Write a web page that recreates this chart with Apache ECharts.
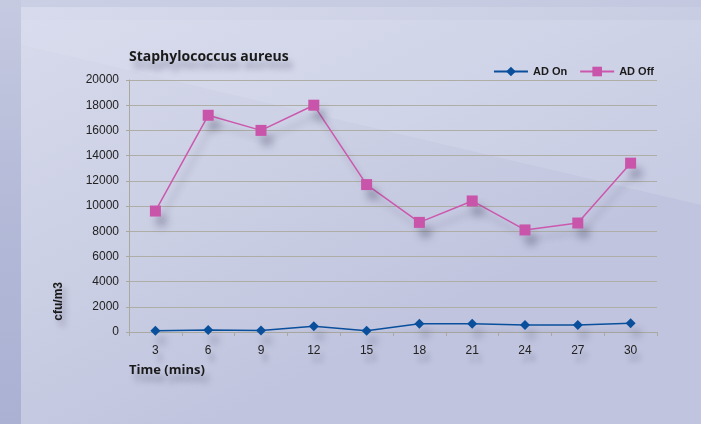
<!DOCTYPE html>
<html><head><meta charset="utf-8">
<script src="https://cdn.jsdelivr.net/npm/echarts@6/dist/echarts.min.js"></script>
<style>html,body{margin:0;padding:0;background:#d3d6e9}#c{width:701px;height:424px}</style>
</head><body><div id="c"></div>
<script>
var categories = ['3','6','9','12','15','18','21','24','27','30'];
var adOn  = [100, 150, 120, 450, 100, 650, 650, 550, 550, 700];
var adOff = [9600, 17200, 16000, 18000, 11700, 8700, 10400, 8100, 8650, 13400];
var yTicks = [0, 2000, 4000, 6000, 8000, 10000, 12000, 14000, 16000, 18000, 20000];

var chart = echarts.init(document.getElementById('c'));
var shadow = {shadowBlur: 8, shadowColor: 'rgba(60,60,90,0.35)', shadowOffsetX: 6, shadowOffsetY: 10};
chart.setOption({
  animation: false,
  backgroundColor: {type:'linear', x:0, y:0, x2:0.3, y2:1, colorStops:[{offset:0,color:'#d8dbec'},{offset:0.6,color:'#cbcfe4'},{offset:1,color:'#c0c4de'}]},
  graphic: [
    {type:'polygon', z:-10, silent:true, shape:{points:[[0,20],[701,20],[701,205],[0,40]]}, style:{fill:'rgba(225,228,242,0.25)'}},
    {type:'rect', z:-9, silent:true, shape:{x:0,y:0,width:701,height:7}, style:{fill:'rgba(190,195,222,0.5)'}},
    {type:'rect', z:-9, silent:true, shape:{x:0,y:0,width:21,height:424}, style:{fill:{type:'linear',x:0,y:0,x2:0,y2:1,colorStops:[{offset:0,color:'#c6cae1'},{offset:0.5,color:'#b3b9d7'},{offset:1,color:'#aab1d3'}]}}},
    {type:'text', left:53, top:282, rotation:Math.PI/2, silent:true,
     style:{text:'cfu/m3', font:'bold 12px "Liberation Sans", Arial, sans-serif', fill:'#1a1a1a', textShadowBlur:6, textShadowColor:'rgba(60,60,90,0.4)', textShadowOffsetX:4, textShadowOffsetY:6}},
    {type:'text', left:129, top:364, silent:true,
     style:{text:'Time (mins)', font:'bold 13px "Open Sans", "Liberation Sans", sans-serif', fill:'#1a1a1a', textShadowBlur:6, textShadowColor:'rgba(60,60,90,0.4)', textShadowOffsetX:4, textShadowOffsetY:8}}
  ],
  title: {
    text: 'Staphylococcus aureus', left: 124, top: 45,
    textStyle: {fontFamily:'"Open Sans", "Liberation Sans", sans-serif', fontWeight:'bold', fontSize:14, color:'#1a1a1a',
      textShadowBlur:6, textShadowColor:'rgba(60,60,90,0.4)', textShadowOffsetX:4, textShadowOffsetY:8}
  },
  legend: {
    right: 42, top: 61, itemGap: 12, itemWidth: 34, itemHeight: 12,
    textStyle: {fontFamily:'"Liberation Sans", Arial, sans-serif', fontWeight:'bold', fontSize:11, color:'#1a1a1a'},
    data: ['AD On', 'AD Off']
  },
  grid: {left: 129, right: 44, top: 80, bottom: 92},
  xAxis: {
    type: 'category', data: categories, boundaryGap: true,
    axisLine: {lineStyle: {color: '#a9a9a0', width: 1}},
    axisTick: {show: true, alignWithLabel: false, length: 4, lineStyle: {color: '#a9a9a0'}},
    axisLabel: {margin: 13, fontFamily:'"Liberation Sans", Arial, sans-serif', fontSize: 12, color: '#222',
      textShadowBlur:5, textShadowColor:'rgba(60,60,90,0.35)', textShadowOffsetX:4, textShadowOffsetY:8}
  },
  yAxis: {
    type: 'value', min: yTicks[0], max: yTicks[yTicks.length-1], interval: yTicks[1]-yTicks[0],
    axisLine: {show: true, lineStyle: {color: '#a9a9a0'}},
    axisTick: {show: true, length: 3, lineStyle: {color: '#a9a9a0'}},
    splitLine: {show: true, lineStyle: {color: '#aeaea6', width: 1}},
    axisLabel: {margin: 10, fontFamily:'"Liberation Sans", Arial, sans-serif', fontSize: 12, color: '#222',
      formatter: function (v) { return String(v); }}
  },
  series: [
    {name: 'AD On', type: 'line', data: adOn, symbol: 'diamond', symbolSize: 10,
     lineStyle: {color: '#0a4f9c', width: 1.5, shadowBlur: 6, shadowColor:'rgba(60,60,90,0.3)', shadowOffsetX:5, shadowOffsetY:9},
     itemStyle: Object.assign({color: '#0a4f9c'}, shadow)},
    {name: 'AD Off', type: 'line', data: adOff, symbol: 'rect', symbolSize: 11,
     lineStyle: {color: '#cc58ad', width: 1.5, shadowBlur: 6, shadowColor:'rgba(60,60,90,0.3)', shadowOffsetX:5, shadowOffsetY:9},
     itemStyle: Object.assign({color: '#c955aa'}, shadow)}
  ]
});
</script></body></html>
